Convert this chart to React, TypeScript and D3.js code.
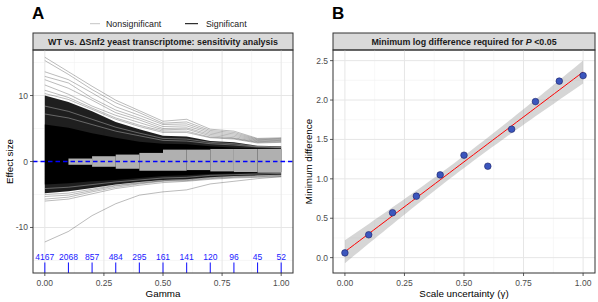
import React from 'react';
import * as d3 from 'd3';

// panel A: sensitivity analysis
const gammas = [0, 0.1, 0.2, 0.3, 0.4, 0.5, 0.6, 0.7, 0.8, 0.9, 1.0];
const sigCounts = [4167, 2068, 857, 484, 295, 161, 141, 120, 96, 45, 52];

// envelope of the dense bundle of significant lines
const cloudUpper = [10.0, 9.0, 7.6, 6.0, 4.9, 3.9, 3.8, 3.1, 2.9, 2.4, 2.3];
const cloudLower = [-4.8, -4.5, -4.0, -3.5, -3.1, -2.8, -2.7, -2.4, -2.2, -2.1, -2.0];
const coreUpper = [5.6, 5.1, 4.3, 3.6, 3.0, 2.7, 2.6, 2.3, 2.1, 2.0, 1.9];
const coreLower = [-3.5, -3.3, -3.0, -2.8, -2.5, -2.2, -2.1, -1.9, -1.8, -1.7, -1.6];

// nonsignificant band, one value per gamma step
const greyUpper = [0, 0.45, 0.8, 1.05, 1.3, 1.8, 1.8, 1.9, 1.9, 1.9];
const greyLower = [0, -0.5, -0.8, -1.1, -1.4, -1.4, -1.3, -1.5, -1.6, -1.7];

const outlierLines = [
  [15.8, 13.6, 11.4, 9.3, 7.7, 6.1, 6.4, 4.9, 4.6, 3.5, 3.6],
  [15.3, 13.2, 10.9, 8.9, 7.4, 5.8, 6.0, 4.7, 4.4, 3.4, 3.5],
  [13.6, 12.4, 10.4, 8.3, 7.0, 5.6, 5.7, 4.5, 4.2, 3.3, 3.4],
  [12.9, 11.9, 9.6, 7.8, 6.6, 5.3, 5.4, 4.3, 4.0, 3.2, 3.3],
  [12.4, 11.1, 9.3, 7.4, 6.3, 5.0, 5.1, 4.1, 3.8, 3.1, 3.2],
  [11.6, 10.2, 8.4, 7.0, 5.9, 4.8, 4.9, 3.9, 3.6, 3.0, 3.1],
  [10.8, 9.7, 8.1, 6.6, 5.5, 4.6, 4.6, 3.7, 3.5, 2.9, 3.0],
  [10.3, 9.4, 7.9, 6.4, 5.3, 4.4, 4.4, 3.6, 3.4, 2.8, 2.9],
  [-12.2, -10.6, -8.2, -6.4, -5.1, -4.6, -4.3, -3.4, -3.0, -2.6, -2.3],
  [-6.0, -5.7, -4.9, -4.1, -3.6, -3.2, -3.0, -2.7, -2.5, -2.4, -2.3],
  [-5.7, -5.4, -4.6, -3.9, -3.4, -3.0, -2.9, -2.6, -2.4, -2.3, -2.2],
  [-5.3, -5.1, -4.4, -3.7, -3.3, -2.9, -2.8, -2.5, -2.3, -2.2, -2.1],
  [-5.0, -4.8, -4.2, -3.6, -3.2, -2.9, -2.7, -2.4, -2.2, -2.1, -2.0],
];

// a few lighter streaks inside the dense bundle
const streakLines = [
  [7.2, 6.6, 5.6, 4.6, 3.9, 3.2, 3.1, 2.7, 2.5, 2.2, 2.1],
  [8.4, 7.6, 6.4, 5.2, 4.3, 3.5, 3.4, 2.9, 2.7, 2.3, 2.2],
  [-4.1, -3.9, -3.5, -3.1, -2.8, -2.5, -2.4, -2.1, -2.0, -1.9, -1.8],
];

// panel B: minimum log difference
const scaleUnc = [0, 0.1, 0.2, 0.3, 0.4, 0.5, 0.6, 0.7, 0.8, 0.9, 1.0];
const minDiff = [0.06, 0.29, 0.57, 0.78, 1.05, 1.30, 1.16, 1.63, 1.98, 2.24, 2.31];

const FONT = "'Liberation Sans', Arial, Helvetica, sans-serif";
const tickCol = '#4d4d4d';
const border = '#333333';

const App: React.FC = () => {
  // panel A geometry
  const aL = 33, aR = 293, top = 50, bottom = 273;
  const xA = d3.scaleLinear().domain([-0.05, 1.05]).range([aL, aR]);
  const yA = d3.scaleLinear().domain([-16.9, 16.9]).range([bottom, top]);

  // panel B geometry
  const bL = 333, bR = 595;
  const xB = d3.scaleLinear().domain([-0.05, 1.05]).range([bL, bR]);
  const yB = d3.scaleLinear().domain([-0.195, 2.635]).range([bottom, top]);

  const xTicks = [0, 0.25, 0.5, 0.75, 1];
  const xMinor = [0.125, 0.375, 0.625, 0.875];

  const bandArea = (up: number[], lo: number[]) =>
    d3.area<number>()
      .x((_, i) => xA(gammas[i]))
      .y0((_, i) => yA(lo[i]))
      .y1((_, i) => yA(up[i]))(up as any) || '';

  const lineA = d3.line<number>().x((_, i) => xA(gammas[i])).y(d => yA(d));

  // linear fit + 95% CI for panel B
  const n = scaleUnc.length;
  const mx = d3.mean(scaleUnc)!;
  const my = d3.mean(minDiff)!;
  const sxx = d3.sum(scaleUnc, x => (x - mx) ** 2);
  const sxy = d3.sum(scaleUnc, (x, i) => (x - mx) * (minDiff[i] - my));
  const slope = sxy / sxx;
  const icpt = my - slope * mx;
  const s = Math.sqrt(d3.sum(scaleUnc, (x, i) => (minDiff[i] - icpt - slope * x) ** 2) / (n - 2));
  const tq = 2.262;
  const fitX = d3.range(0, 1.0001, 0.02);
  const ci = (x: number) => tq * s * Math.sqrt(1 / n + (x - mx) ** 2 / sxx);
  const ribbon = d3.area<number>()
    .x(x => xB(x))
    .y0(x => yB(icpt + slope * x - ci(x)))
    .y1(x => yB(icpt + slope * x + ci(x)))(fitX) || '';
  const fitLine = d3.line<number>().x(x => xB(x)).y(x => yB(icpt + slope * x))(fitX) || '';

  const grid = (
    xs: d3.ScaleLinear<number, number>, ys: d3.ScaleLinear<number, number>,
    yMaj: number[], yMin: number[], l: number, r: number
  ) => (
    <g>
      {xMinor.map(v => <line key={'xm' + v} x1={xs(v)} x2={xs(v)} y1={top} y2={bottom} stroke="#f2f2f2" strokeWidth={0.6} />)}
      {yMin.map(v => <line key={'ym' + v} x1={l} x2={r} y1={ys(v)} y2={ys(v)} stroke="#f2f2f2" strokeWidth={0.6} />)}
      {xTicks.map(v => <line key={'xM' + v} x1={xs(v)} x2={xs(v)} y1={top} y2={bottom} stroke="#e6e6e6" strokeWidth={1} />)}
      {yMaj.map(v => <line key={'yM' + v} x1={l} x2={r} y1={ys(v)} y2={ys(v)} stroke="#e6e6e6" strokeWidth={1} />)}
    </g>
  );

  const xAxis = (xs: d3.ScaleLinear<number, number>) => (
    <g>
      {xTicks.map(v => (
        <g key={v}>
          <line x1={xs(v)} x2={xs(v)} y1={bottom} y2={bottom + 3} stroke={border} strokeWidth={0.8} />
          <text x={xs(v)} y={bottom + 12.5} textAnchor="middle" fontSize={8.5} fill={tickCol}>{d3.format('.2f')(v)}</text>
        </g>
      ))}
    </g>
  );

  const yAxis = (ys: d3.ScaleLinear<number, number>, ticks: number[], l: number, fmt: (v: number) => string) => (
    <g>
      {ticks.map(v => (
        <g key={v}>
          <line x1={l - 3} x2={l} y1={ys(v)} y2={ys(v)} stroke={border} strokeWidth={0.8} />
          <text x={l - 5} y={ys(v) + 3} textAnchor="end" fontSize={8.5} fill={tickCol}>{fmt(v)}</text>
        </g>
      ))}
    </g>
  );

  return (
    <svg width={598} height={302} style={{ position: 'absolute', left: 0, top: 0 }} fontFamily={FONT}>
      <rect width={598} height={302} fill="#fff" />

      {/* ---------- panel A ---------- */}
      <text x={32} y={18.5} fontSize={17} fontWeight="bold">A</text>
      <line x1={90} x2={100} y1={23.7} y2={23.7} stroke="#c4c4c4" strokeWidth={1} />
      <text x={106} y={26.7} fontSize={8.8} fill="#1a1a1a">Nonsignificant</text>
      <line x1={185} x2={198} y1={23.7} y2={23.7} stroke="#000" strokeWidth={1} />
      <text x={206} y={26.7} fontSize={8.8} fill="#1a1a1a">Significant</text>

      <rect x={aL} y={33} width={aR - aL} height={top - 33} fill="#d9d9d9" stroke={border} strokeWidth={1} />
      <text x={(aL + aR) / 2} y={44.7} textAnchor="middle" fontSize={8.9} fontWeight="bold" fill="#1a1a1a">
        WT vs. ΔSnf2 yeast transcriptome: sensitivity analysis
      </text>

      {grid(xA, yA, [-10, 0, 10], [-15, -5, 5, 15], aL, aR)}

      <path d={bandArea(cloudUpper, cloudLower)} fill="#000" fillOpacity={0.88} />
      <path d={bandArea(coreUpper, coreLower)} fill="#000" />
      {streakLines.map((l, i) => (
        <path key={'s' + i} d={lineA(l) || ''} fill="none" stroke="#fff" strokeOpacity={0.55} strokeWidth={0.6} />
      ))}
      {greyUpper.map((u, i) => u > 0 && (
        <rect key={'g' + i} x={xA(gammas[i])} width={xA(gammas[i + 1]) - xA(gammas[i])}
          y={yA(u)} height={yA(greyLower[i]) - yA(u)} fill="#b0b0b0" />
      ))}
      {outlierLines.map((l, i) => (
        <path key={'o' + i} d={lineA(l) || ''} fill="none" stroke="#000" strokeOpacity={0.45} strokeWidth={0.6} />
      ))}
      <line x1={aL} x2={aR} y1={yA(0)} y2={yA(0)} stroke="#0000ff" strokeWidth={1.3} strokeDasharray="4.5,3" />

      {gammas.map((g, i) => (
        <g key={'c' + i}>
          <text x={xA(g)} y={yA(-14.45) + 3} textAnchor="middle" fontSize={8.5} fill="#2020ff">{sigCounts[i]}</text>
          <line x1={xA(g)} x2={xA(g)} y1={yA(-15.3)} y2={bottom} stroke="#2020ff" strokeWidth={1.1} />
        </g>
      ))}

      <rect x={aL} y={top} width={aR - aL} height={bottom - top} fill="none" stroke={border} strokeWidth={1} />
      {xAxis(xA)}
      {yAxis(yA, [-10, 0, 10], aL, d => String(d))}
      <text x={(aL + aR) / 2} y={297} textAnchor="middle" fontSize={9.8}>Gamma</text>
      <text transform={`translate(13,${(top + bottom) / 2}) rotate(-90)`} textAnchor="middle" fontSize={9.8}>Effect size</text>

      {/* ---------- panel B ---------- */}
      <text x={332} y={18.5} fontSize={17} fontWeight="bold">B</text>
      <rect x={bL} y={33} width={bR - bL} height={top - 33} fill="#d9d9d9" stroke={border} strokeWidth={1} />
      <text x={(bL + bR) / 2} y={44.7} textAnchor="middle" fontSize={8.9} fontWeight="bold" fill="#1a1a1a">
        Minimum log difference required for <tspan fontStyle="italic">P</tspan> {'<0.05'}
      </text>

      {grid(xB, yB, [0, 0.5, 1, 1.5, 2, 2.5], [0.25, 0.75, 1.25, 1.75, 2.25], bL, bR)}

      <path d={ribbon} fill="#999999" fillOpacity={0.4} />
      <path d={fitLine} fill="none" stroke="#ff0000" strokeWidth={1} />
      {scaleUnc.map((x, i) => (
        <circle key={'p' + i} cx={xB(x)} cy={yB(minDiff[i])} r={3.3} fill="#3b56bd" stroke="#1c2266" strokeWidth={0.6} />
      ))}

      <rect x={bL} y={top} width={bR - bL} height={bottom - top} fill="none" stroke={border} strokeWidth={1} />
      {xAxis(xB)}
      {yAxis(yB, [0, 0.5, 1, 1.5, 2, 2.5], bL, d3.format('.1f'))}
      <text x={(bL + bR) / 2} y={297} textAnchor="middle" fontSize={9.8}>Scale uncertainty (γ)</text>
      <text transform={`translate(312,${(top + bottom) / 2}) rotate(-90)`} textAnchor="middle" fontSize={9.8}>Minimum difference</text>
    </svg>
  );
};

export default App;
